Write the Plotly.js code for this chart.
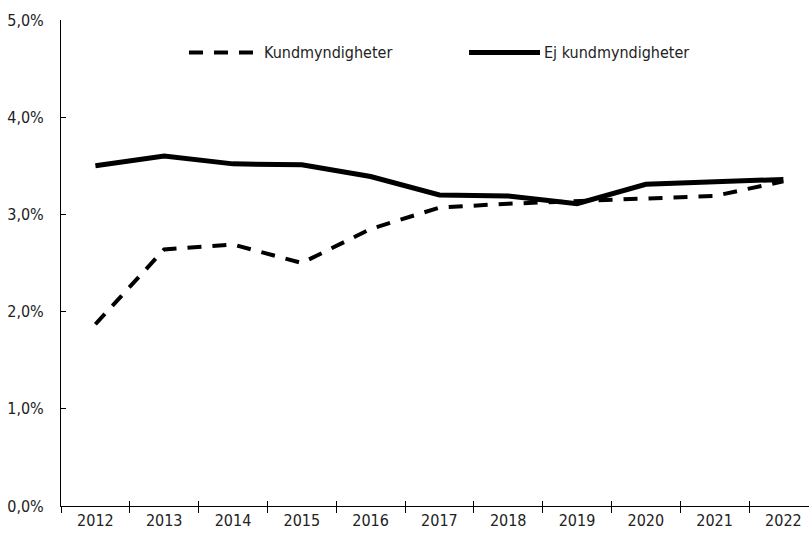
<!DOCTYPE html>
<html>
<head>
<meta charset="utf-8">
<script src="https://cdn.plot.ly/plotly-3.0.1.min.js"></script>
<style>html,body{margin:0;padding:0;background:#fff;}#chart{width:809px;height:539px;}</style>
</head>
<body>
<div id="chart"></div>
<script>
const years = ["2012","2013","2014","2015","2016","2017","2018","2019","2020","2021","2022"];
const kund = [1.87, 2.64, 2.69, 2.50, 2.85, 3.07, 3.11, 3.14, 3.17, 3.19, 3.34];
const ejKund = [3.50, 3.60, 3.52, 3.51, 3.39, 3.20, 3.19, 3.11, 3.31, 3.33, 3.36];
const seriesNames = ["Kundmyndigheter", "Ej kundmyndigheter"];
const yTicks = [0, 1, 2, 3, 4, 5];
const yTickLabels = ["0,0%", "1,0%", "2,0%", "3,0%", "4,0%", "5,0%"];

const FONT = '"Liberation Sans Narrow", "DejaVu Sans Condensed", "Roboto", sans-serif';
const TXT = "#222";
const DASH = "14px,11px";

const traces = [
  {x: years, y: kund, name: seriesNames[0], type: "scatter", mode: "lines",
   line: {color: "#000", width: 4, dash: DASH}, showlegend: false},
  {x: years, y: ejKund, name: seriesNames[1], type: "scatter", mode: "lines",
   line: {color: "#000", width: 5}, showlegend: false}
];

// custom legend (samples 70px long like the reference)
const shapes = [
  {type: "line", xref: "paper", yref: "paper", x0: 0.1711, x1: 0.2634, y0: 0.933, y1: 0.933,
   line: {color: "#000", width: 4, dash: DASH}},
  {type: "line", xref: "paper", yref: "paper", x0: 0.5455, x1: 0.6404, y0: 0.933, y1: 0.933,
   line: {color: "#000", width: 5}}
];
const annotations = [
  {xref: "paper", yref: "paper", x: 0.2690, y: 0.933, xanchor: "left", yanchor: "middle",
   text: seriesNames[0], showarrow: false, font: {family: FONT, size: 16, color: TXT}},
  {xref: "paper", yref: "paper", x: 0.6430, y: 0.933, xanchor: "left", yanchor: "middle",
   text: seriesNames[1], showarrow: false, font: {family: FONT, size: 16, color: TXT}}
];

const layout = {
  width: 809, height: 539,
  margin: {l: 61, r: 0, t: 20, b: 33, pad: 0},
  paper_bgcolor: "#fff", plot_bgcolor: "#fff",
  font: {family: FONT, size: 16, color: TXT},
  showlegend: false,
  shapes: shapes,
  annotations: annotations,
  xaxis: {type: "category", range: [-0.5, 10.372], tickson: "boundaries",
          ticks: "outside", ticklen: 6, tickcolor: "#000", tickwidth: 1,
          showline: true, linecolor: "#000", linewidth: 1, showgrid: false,
          zeroline: false, fixedrange: true, tickfont: {family: FONT, size: 16, color: TXT}},
  xaxis2: {type: "category", overlaying: "x", anchor: "y", side: "bottom",
           categoryarray: years, categoryorder: "array",
           range: [-0.5, 10.372], tickson: "boundaries", ticks: "inside", ticklen: 5,
           tickcolor: "#000", tickwidth: 1, showticklabels: false, showline: false,
           showgrid: false, zeroline: false, fixedrange: true},
  yaxis: {range: [0, 5], tickvals: yTicks, ticktext: yTickLabels,
          ticks: "inside", ticklen: 5, tickcolor: "#000", tickwidth: 1,
          ticklabelstandoff: 13,
          showline: true, linecolor: "#000", linewidth: 1, showgrid: false,
          zeroline: false, fixedrange: true, tickfont: {family: FONT, size: 16, color: TXT}}
};

// invisible helper so the overlaid axis draws its inward ticks
traces.push({x: years, y: ejKund, xaxis: "x2", type: "scatter", mode: "lines",
             line: {width: 0, color: "rgba(0,0,0,0)"}, hoverinfo: "skip", showlegend: false});

Plotly.newPlot("chart", traces, layout, {displayModeBar: false, staticPlot: true});
</script>
</body>
</html>
